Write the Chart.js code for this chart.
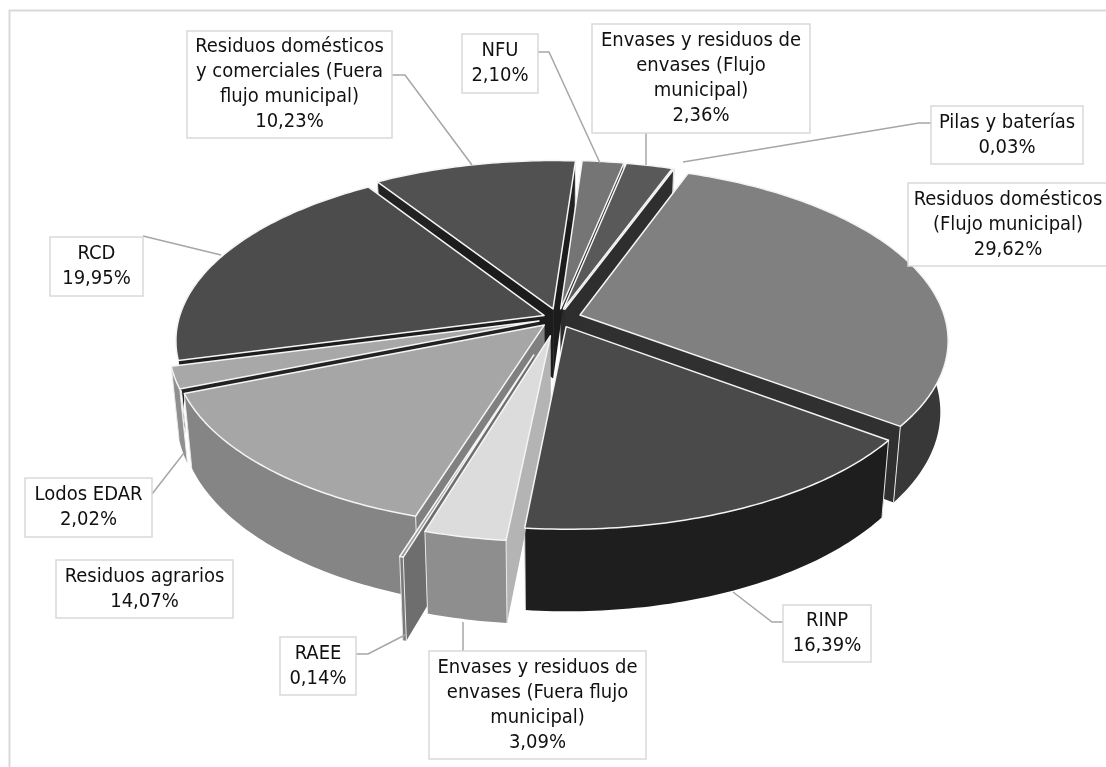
<!DOCTYPE html>
<html>
<head>
<meta charset="utf-8">
<style>html,body{margin:0;padding:0;background:#fff}canvas{display:block}</style>
<script src="https://cdn.jsdelivr.net/npm/chart.js@4"></script>
</head>
<body>
<canvas id="c" width="1106" height="767"></canvas>
<script>
// clockwise from the top of the pie
const categories = [
  "Pilas y baterías",
  "Residuos domésticos (Flujo municipal)",
  "RINP",
  "Envases y residuos de envases (Fuera flujo municipal)",
  "RAEE",
  "Residuos agrarios",
  "Lodos EDAR",
  "RCD",
  "Residuos domésticos y comerciales (Fuera flujo municipal)",
  "NFU",
  "Envases y residuos de envases (Flujo municipal)"
];
const values = [0.03, 29.62, 16.39, 3.09, 0.14, 14.07, 2.02, 19.95, 10.23, 2.10, 2.36];
const labelLines = [
  ["Pilas y baterías"],
  ["Residuos domésticos", "(Flujo municipal)"],
  ["RINP"],
  ["Envases y residuos de", "envases (Fuera flujo", "municipal)"],
  ["RAEE"],
  ["Residuos agrarios"],
  ["Lodos EDAR"],
  ["RCD"],
  ["Residuos domésticos", "y comerciales (Fuera", "flujo municipal)"],
  ["NFU"],
  ["Envases y residuos de", "envases (Flujo", "municipal)"]
];
const topColors  = ["#3a3a3a", "#808080", "#4a4a4a", "#dcdcdc", "#9a9a9a", "#a6a6a6", "#a8a8a8", "#4c4c4c", "#515151", "#757575", "#595959"];
const rimColors  = ["#2a2a2a", "#383838", "#1e1e1e", "#8e8e8e", "#7a7a7a", "#858585", "#8f8f8f", "#1e1e1e", "#222222", "#333333", "#282828"];
const wallColors = ["#2e2e2e", "#303030", "#2a2a2a", "#b4b4b4", "#6e6e6e", "#808080", "#222222", "#1c1c1c", "#1c1c1c", "#2c2c2c", "#2c2c2c"];
const explode    = [20, 23, 20, 38, 80, 20, 20, 15, 20, 20, 20];
const wallDepth  = [1, 1, 1, 1, 1, 1, 0.08, 0.12, 1, 1, 1];

// callout boxes [x, y, w, h] and leader lines, same order as categories
const boxes = [
  [931, 106, 152, 58], [908, 183, 200, 83], [783, 605, 88, 57], [429, 651, 217, 108],
  [280, 637, 76, 58], [56, 560, 177, 58], [25, 478, 127, 59], [50, 237, 93, 59],
  [187, 31, 205, 107], [462, 34, 76, 59], [592, 24, 218, 109]
];
const leaders = [
  [[931, 123], [919, 123], [683, 162]],
  [],
  [[783, 622], [772, 622], [733, 592]],
  [[463, 651], [463, 622]],
  [[356, 654], [368, 654], [405, 635]],
  [],
  [[152, 494], [184, 453]],
  [[143, 236], [221, 255]],
  [[392, 75], [405, 75], [472, 165]],
  [[538, 52], [549, 52], [600, 163]],
  [[646, 133], [646, 165]]
];

const tilt = 0.47, persp = 0.14, depth = 70, bottomShrink = 0.02;
const centerY = 318;

function project(arc, offset, rad, theta, z) {
  const mid = (arc.startAngle + arc.endAngle) / 2 + Math.PI / 2;
  const u = offset * Math.sin(mid) + rad * Math.sin(theta);
  const w = offset * Math.cos(mid) + rad * Math.cos(theta);
  const d = 1 + persp * w / arc.outerRadius;
  const s = z > 0 ? 1 - bottomShrink : 1;
  return [arc.x + s * u / d, centerY - tilt * w / d + z / d];
}

function poly(ctx, pts) {
  ctx.beginPath();
  pts.forEach((p, i) => i ? ctx.lineTo(p[0], p[1]) : ctx.moveTo(p[0], p[1]));
  ctx.closePath();
}

function rimPoints(arc, z) {
  const a0 = arc.startAngle + Math.PI / 2, a1 = arc.endAngle + Math.PI / 2;
  const steps = Math.max(2, Math.ceil((a1 - a0) * 60));
  const pts = [];
  for (let s = 0; s <= steps; s++) {
    pts.push(project(arc, arc.options.offset, arc.outerRadius, a0 + (a1 - a0) * s / steps, z));
  }
  return pts;
}

function drawSides(ctx, arc, i) {
  const off = arc.options.offset, R = arc.outerRadius;
  const a0 = arc.startAngle + Math.PI / 2, a1 = arc.endAngle + Math.PI / 2;
  const wd = depth * wallDepth[i];
  const apexT = project(arc, off, 0, a0, 0);
  // radial cut faces
  [a0, a1].forEach(t => {
    const top = project(arc, off, R, t, 0), bot = project(arc, off, R, t, wd);
    poly(ctx, [apexT, top, bot, project(arc, off, 0, t, wd)]);
    ctx.fillStyle = wallColors[i];
    ctx.fill();
  });
  // outer rim
  const rimTop = rimPoints(arc, 0), rimBot = rimPoints(arc, depth);
  poly(ctx, rimTop.concat(rimBot.slice().reverse()));
  ctx.fillStyle = rimColors[i];
  ctx.fill();
  // pale vertical edges at the cuts
  ctx.strokeStyle = "#e8e8e8";
  ctx.lineWidth = 1;
  [0, rimTop.length - 1].forEach(n => {
    ctx.beginPath();
    ctx.moveTo(rimTop[n][0], rimTop[n][1]);
    ctx.lineTo(rimBot[n][0], rimBot[n][1]);
    ctx.stroke();
  });
}

function drawTop(ctx, arc, i) {
  const apexT = project(arc, arc.options.offset, 0, 0, 0);
  poly(ctx, [apexT].concat(rimPoints(arc, 0)));
  ctx.fillStyle = topColors[i];
  ctx.fill();
  ctx.strokeStyle = "#f4f4f4";
  ctx.lineWidth = 1.5;
  ctx.lineJoin = "round";
  ctx.stroke();
}

const pie3d = {
  id: "pie3d",
  beforeDraw(chart) {
    const ctx = chart.ctx;
    ctx.save();
    ctx.strokeStyle = "#d9d9d9";
    ctx.lineWidth = 2;
    ctx.beginPath();
    ctx.moveTo(9.5, 767); ctx.lineTo(9.5, 10.5); ctx.lineTo(1106, 10.5);
    ctx.stroke();
    ctx.restore();
  },
  beforeDatasetDraw() { return false; },
  afterDatasetsDraw(chart) {
    const ctx = chart.ctx;
    const arcs = chart.getDatasetMeta(0).data;
    const order = arcs.map((a, i) => i).sort((p, q) => {
      const m = a => Math.cos((a.startAngle + a.endAngle) / 2 + Math.PI / 2);
      return m(arcs[q]) - m(arcs[p]);
    });
    ctx.save();
    // tops sit on the highest plane, so they always go last
    order.forEach(i => drawSides(ctx, arcs[i], i));
    order.forEach(i => drawTop(ctx, arcs[i], i));
    ctx.restore();
  },
  afterDraw(chart) {
    const ctx = chart.ctx;
    ctx.save();
    ctx.strokeStyle = "#a6a6a6";
    ctx.lineWidth = 1.5;
    leaders.forEach(l => {
      if (!l.length) return;
      ctx.beginPath();
      l.forEach((p, i) => i ? ctx.lineTo(p[0], p[1]) : ctx.moveTo(p[0], p[1]));
      ctx.stroke();
    });
    ctx.font = '20px "DejaVu Sans Condensed", "DejaVu Sans"';
    ctx.textAlign = "center";
    ctx.textBaseline = "middle";
    values.forEach((v, i) => {
      const b = boxes[i];
      ctx.fillStyle = "#fff";
      ctx.fillRect(b[0], b[1], b[2], b[3]);
      ctx.strokeStyle = "#d9d9d9";
      ctx.lineWidth = 1.5;
      ctx.strokeRect(b[0], b[1], b[2], b[3]);
      const lines = labelLines[i].concat(v.toFixed(2).replace(".", ",") + "%");
      const top = b[1] + b[3] / 2 - (lines.length - 1) * 12.5;
      ctx.fillStyle = "#111";
      lines.forEach((t, n) => ctx.fillText(t, b[0] + b[2] / 2, top + n * 25));
    });
    ctx.restore();
  }
};

new Chart(document.getElementById("c"), {
  type: "pie",
  data: {
    labels: categories,
    datasets: [{ data: values, backgroundColor: topColors, offset: explode, borderWidth: 0 }]
  },
  options: {
    responsive: false,
    animation: false,
    rotation: 20,
    radius: 365,
    layout: { padding: { left: 10 } },
    plugins: { legend: { display: false }, tooltip: { enabled: false } }
  },
  plugins: [pie3d]
});
</script>
</body>
</html>
